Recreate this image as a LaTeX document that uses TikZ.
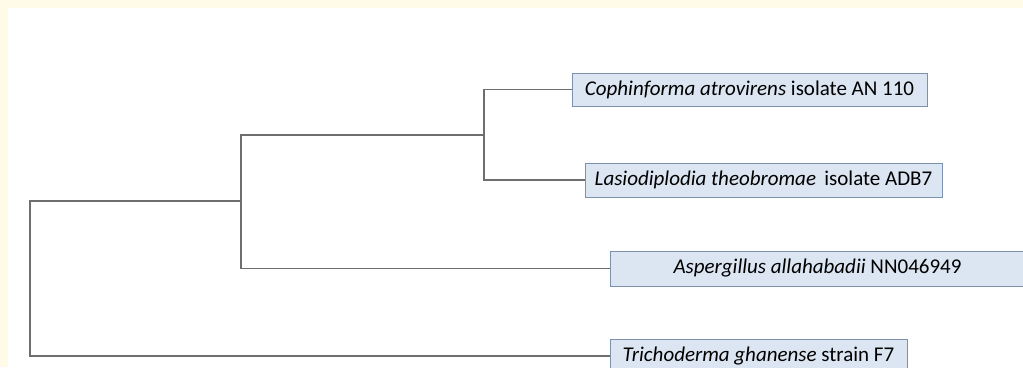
\documentclass[tikz,border=0pt]{standalone}
\usepackage{fontspec}
\setmainfont{Carlito}
\definecolor{creamback}{RGB}{255, 251, 232}
\definecolor{taxonfill}{RGB}{220, 230, 242}
\definecolor{taxonedge}{RGB}{125, 145, 175}
\definecolor{branchgray}{RGB}{110, 110, 110}
\usetikzlibrary{positioning, calc}
\tikzset{
  taxon/.style={draw=taxonedge, fill=taxonfill, line width=1pt, inner sep=0pt, font=\fontsize{21}{24}\selectfont},
  branch/.style={draw=branchgray, line width=1.4pt}
}

\begin{document}
\begin{tikzpicture}[x=1pt, y=-1pt]
  % Page and frame
  \useasboundingbox (0, 0) rectangle (1023, 367);
  \clip (0, 0) rectangle (1023, 367);
  \fill[creamback] (0, 0) rectangle (1023, 367);
  \fill[white] (8, 8) rectangle (1023, 367);

  % Taxa
  \node[taxon, minimum width=355pt, minimum height=33pt] (coph) at (749.5, 89.5) {\textit{Cophinforma atrovirens} isolate AN 110};
  \node[taxon, minimum width=357pt, minimum height=34pt] (lasi) at (763.5, 180) {\textit{Lasiodiplodia theobromae}\, isolate ADB7};
  \node[taxon, minimum width=415pt, minimum height=35pt] (aspe) at (817.5, 268.5) {\textit{Aspergillus allahabadii} NN046949};
  \node[taxon, minimum width=297pt, minimum height=33pt] (tric) at (758.5, 356) {\textit{Trichoderma ghanense} strain F7};

  % Internal nodes
  \coordinate (n2) at (484, 135);
  \coordinate (n1) at (241, 201);
  \coordinate (n0) at (30, 201);

  % Branches
  \draw[branch] (coph.west) -| (n2) |- (lasi.west);
  \draw[branch] (n2) -| (n1) |- (aspe.west);
  \draw[branch] (n1) -- (n0) |- (tric.west);
\end{tikzpicture}
\end{document}
